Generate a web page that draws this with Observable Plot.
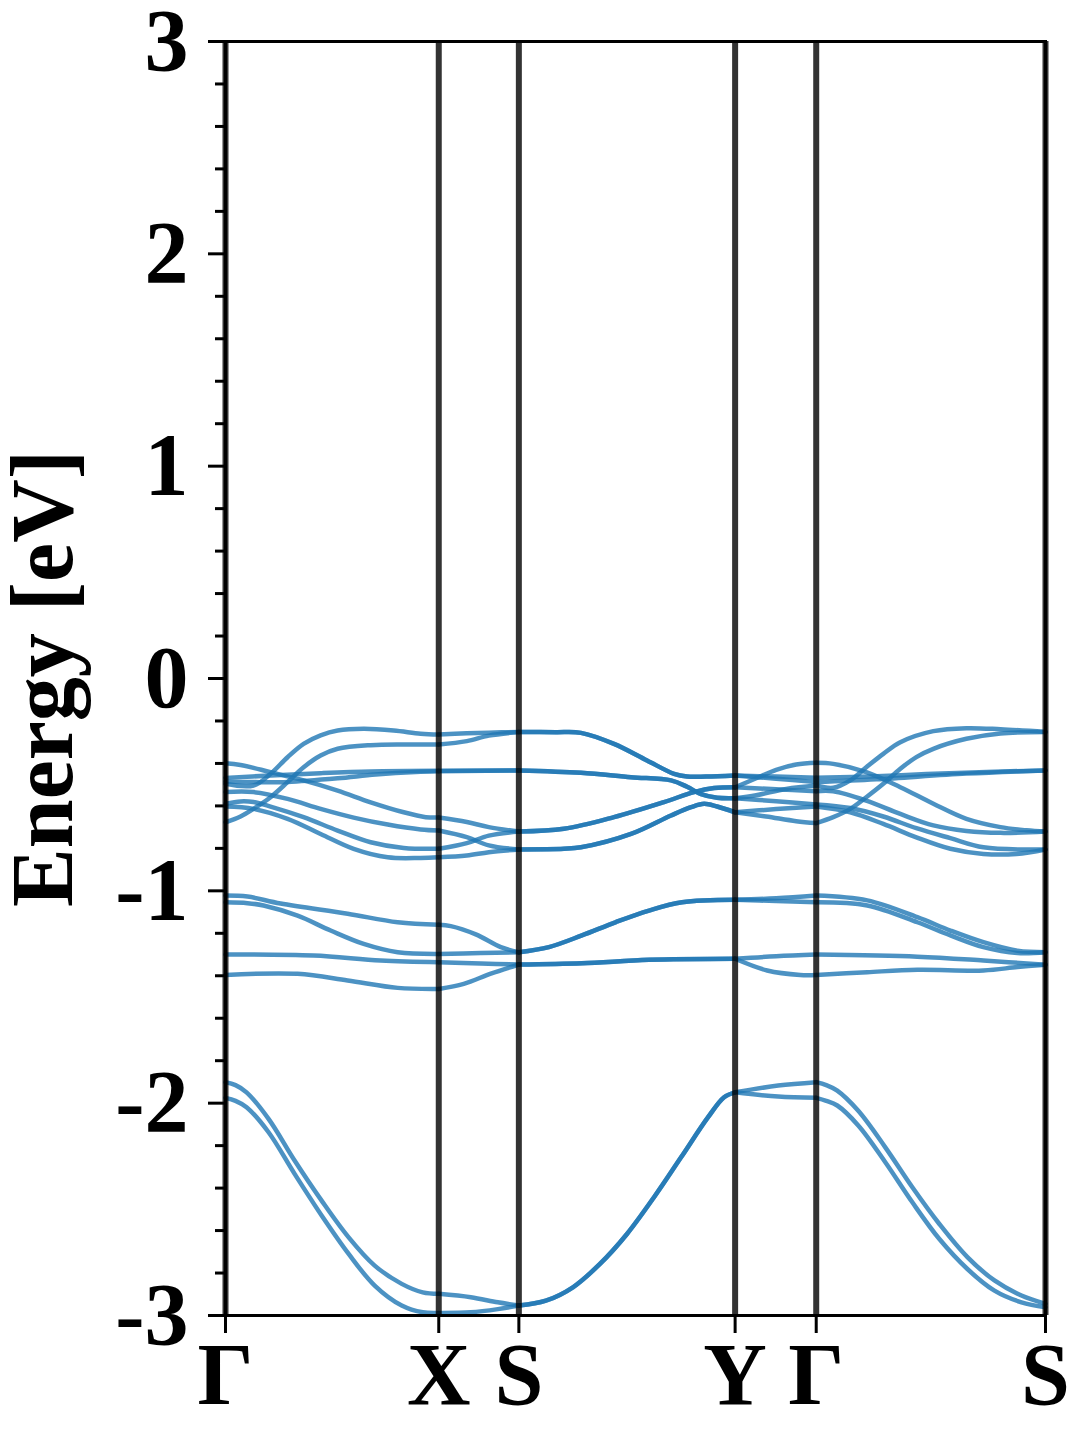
<!DOCTYPE html>
<html>
<head>
<meta charset="utf-8">
<script src="https://cdn.jsdelivr.net/npm/d3@7"></script>
<script src="https://cdn.jsdelivr.net/npm/@observablehq/plot@0.6"></script>
<style>
  html, body { margin: 0; padding: 0; background: white; }
  svg { display: block; }
</style>
</head>
<body>
<div id="chart"></div>
<script>
// High-symmetry path
const kLabels = ["Γ", "X", "S", "Y", "Γ", "S"];
const kPos = [0, 213, 293, 509, 590, 819];
const yMajorTicks = [-3, -2, -1, 0, 1, 2, 3];
const yMinorTicks = [-2.8,-2.6,-2.4,-2.2,-1.8,-1.6,-1.4,-1.2,-0.8,-0.6,-0.4,-0.2,0.2,0.4,0.6,0.8,1.2,1.4,1.6,1.8,2.2,2.4,2.6,2.8];
const yLabel = "Energy [eV]";

// Bands along Γ → X : [k, E]
const bandsGX = [
  [[0,-0.496],[28,-0.504],[45,-0.449],[62,-0.371],[78,-0.308],[95,-0.268],[112,-0.245],[138,-0.237],[168,-0.245],[195,-0.260],[213,-0.264]],
  [[0,-0.677],[15,-0.650],[28,-0.614],[45,-0.559],[62,-0.488],[78,-0.418],[95,-0.363],[112,-0.331],[145,-0.314],[180,-0.311],[213,-0.311]],
  [[0,-0.399],[15,-0.407],[45,-0.441],[78,-0.480],[112,-0.528],[145,-0.583],[178,-0.630],[200,-0.653],[213,-0.655]],
  [[0,-0.468],[45,-0.457],[95,-0.446],[145,-0.438],[213,-0.435]],
  [[0,-0.485],[30,-0.488],[62,-0.487],[112,-0.470],[150,-0.452],[190,-0.440],[213,-0.437]],
  [[0,-0.535],[28,-0.535],[62,-0.567],[95,-0.614],[128,-0.655],[162,-0.688],[195,-0.711],[213,-0.716]],
  [[0,-0.590],[15,-0.579],[28,-0.582],[45,-0.603],[78,-0.653],[112,-0.716],[145,-0.771],[178,-0.798],[213,-0.802]],
  [[0,-0.603],[28,-0.614],[62,-0.661],[95,-0.732],[128,-0.802],[162,-0.842],[195,-0.845],[213,-0.842]],
  [[0,-1.022],[22,-1.027],[55,-1.060],[122,-1.108],[172,-1.148],[213,-1.160]],
  [[0,-1.054],[22,-1.058],[38,-1.069],[72,-1.117],[105,-1.187],[138,-1.250],[172,-1.289],[213,-1.297]],
  [[0,-1.300],[88,-1.305],[155,-1.328],[213,-1.336]],
  [[0,-1.396],[72,-1.391],[122,-1.422],[172,-1.457],[213,-1.462]],
  [[0,-1.901],[10,-1.915],[21,-1.949],[43,-2.074],[69,-2.270],[96,-2.459],[123,-2.632],[149,-2.765],[176,-2.851],[197,-2.891],[213,-2.898]],
  [[0,-1.975],[10,-1.989],[21,-2.019],[43,-2.137],[69,-2.333],[96,-2.529],[123,-2.710],[149,-2.859],[176,-2.953],[197,-2.985],[213,-2.988]]
];

// Bands along X → S
const bandsXS = [
  [[213,-0.264],[241,-0.258],[263,-0.255],[293,-0.252]],
  [[213,-0.311],[241,-0.295],[263,-0.269],[293,-0.252]],
  [[213,-0.435],[293,-0.433]],
  [[213,-0.437],[293,-0.433]],
  [[213,-0.655],[241,-0.676],[263,-0.700],[293,-0.721]],
  [[213,-0.716],[241,-0.747],[263,-0.786],[293,-0.805]],
  [[213,-0.802],[241,-0.775],[263,-0.740],[293,-0.721]],
  [[213,-0.842],[241,-0.834],[263,-0.818],[293,-0.805]],
  [[213,-1.160],[225,-1.166],[250,-1.205],[275,-1.265],[293,-1.289]],
  [[213,-1.297],[255,-1.293],[293,-1.289]],
  [[213,-1.336],[255,-1.342],[293,-1.347]],
  [[213,-1.462],[238,-1.438],[265,-1.390],[293,-1.347]],
  [[213,-2.898],[245,-2.914],[272,-2.938],[293,-2.953]],
  [[213,-2.988],[245,-2.985],[272,-2.970],[293,-2.953]]
];

// Bands along S → Y (pairwise degenerate, drawn twice)
const bandsSY = [
  [[293,-0.252],[330,-0.253],[355,-0.256],[388,-0.308],[421,-0.386],[448,-0.449],[461,-0.462],[480,-0.462],[509,-0.457]],
  [[293,-0.252],[330,-0.253],[355,-0.256],[388,-0.308],[421,-0.386],[448,-0.449],[461,-0.462],[480,-0.462],[509,-0.457]],
  [[293,-0.433],[355,-0.444],[405,-0.465],[445,-0.480],[461,-0.510],[475,-0.545],[491,-0.562],[509,-0.564]],
  [[293,-0.433],[355,-0.444],[405,-0.465],[445,-0.480],[461,-0.510],[475,-0.545],[491,-0.562],[509,-0.564]],
  [[293,-0.721],[338,-0.708],[388,-0.653],[438,-0.582],[468,-0.535],[488,-0.516],[509,-0.512]],
  [[293,-0.721],[338,-0.708],[388,-0.653],[438,-0.582],[468,-0.535],[488,-0.516],[509,-0.512]],
  [[293,-0.805],[338,-0.802],[355,-0.795],[405,-0.732],[445,-0.645],[465,-0.606],[478,-0.590],[491,-0.603],[509,-0.630]],
  [[293,-0.805],[338,-0.802],[355,-0.795],[405,-0.732],[445,-0.645],[465,-0.606],[478,-0.590],[491,-0.603],[509,-0.630]],
  [[293,-1.289],[323,-1.265],[356,-1.210],[390,-1.147],[423,-1.093],[456,-1.054],[509,-1.042]],
  [[293,-1.289],[323,-1.265],[356,-1.210],[390,-1.147],[423,-1.093],[456,-1.054],[509,-1.042]],
  [[293,-1.347],[356,-1.341],[423,-1.325],[509,-1.320]],
  [[293,-1.347],[356,-1.341],[423,-1.325],[509,-1.320]],
  [[293,-2.953],[320,-2.930],[347,-2.867],[374,-2.757],[401,-2.616],[428,-2.443],[455,-2.255],[482,-2.066],[498,-1.972],[509,-1.949]],
  [[293,-2.953],[320,-2.930],[347,-2.867],[374,-2.757],[401,-2.616],[428,-2.443],[455,-2.255],[482,-2.066],[498,-1.972],[509,-1.949]]
];

// Bands along Y → Γ
const bandsYG = [
  [[509,-0.512],[530,-0.470],[550,-0.430],[570,-0.405],[590,-0.397]],
  [[509,-0.512],[550,-0.522],[590,-0.531]],
  [[509,-0.457],[550,-0.462],[590,-0.468]],
  [[509,-0.457],[550,-0.472],[590,-0.488]],
  [[509,-0.564],[530,-0.550],[560,-0.520],[590,-0.504]],
  [[509,-0.564],[550,-0.578],[590,-0.593]],
  [[509,-0.630],[550,-0.615],[590,-0.603]],
  [[509,-0.630],[540,-0.650],[570,-0.672],[590,-0.681]],
  [[509,-1.042],[550,-1.035],[590,-1.022]],
  [[509,-1.042],[550,-1.048],[590,-1.054]],
  [[509,-1.320],[550,-1.308],[590,-1.300]],
  [[509,-1.320],[541,-1.375],[574,-1.396],[590,-1.396]],
  [[509,-1.949],[552,-1.917],[590,-1.901]],
  [[509,-1.949],[552,-1.969],[590,-1.975]]
];

// Bands along Γ → S
const bandsGS = [
  [[590,-0.504],[607,-0.515],[624,-0.480],[640,-0.418],[657,-0.355],[674,-0.300],[707,-0.248],[740,-0.234],[774,-0.239],[819,-0.252]],
  [[590,-0.681],[607,-0.653],[624,-0.614],[640,-0.559],[657,-0.496],[674,-0.425],[690,-0.370],[707,-0.331],[740,-0.284],[774,-0.259],[819,-0.252]],
  [[590,-0.468],[650,-0.460],[700,-0.450],[760,-0.440],[819,-0.433]],
  [[590,-0.488],[650,-0.475],[740,-0.448],[819,-0.433]],
  [[590,-0.397],[607,-0.402],[640,-0.441],[674,-0.512],[707,-0.590],[740,-0.661],[774,-0.700],[800,-0.715],[819,-0.721]],
  [[590,-0.531],[607,-0.531],[640,-0.575],[674,-0.638],[707,-0.692],[740,-0.718],[774,-0.727],[819,-0.721]],
  [[590,-0.593],[624,-0.610],[657,-0.650],[690,-0.705],[724,-0.752],[757,-0.795],[819,-0.805]],
  [[590,-0.603],[624,-0.630],[657,-0.685],[690,-0.748],[724,-0.802],[757,-0.826],[790,-0.826],[819,-0.805]],
  [[590,-1.022],[641,-1.045],[691,-1.124],[724,-1.187],[757,-1.242],[791,-1.282],[819,-1.289]],
  [[590,-1.054],[641,-1.069],[691,-1.148],[724,-1.210],[757,-1.265],[791,-1.293],[819,-1.289]],
  [[590,-1.300],[691,-1.310],[757,-1.328],[819,-1.348]],
  [[590,-1.396],[641,-1.383],[691,-1.372],[757,-1.375],[791,-1.359],[819,-1.348]],
  [[590,-1.901],[600,-1.915],[611,-1.941],[632,-2.036],[659,-2.208],[686,-2.396],[713,-2.569],[741,-2.725],[768,-2.835],[795,-2.906],[819,-2.945]],
  [[590,-1.975],[600,-1.989],[611,-2.011],[632,-2.105],[659,-2.278],[686,-2.467],[713,-2.640],[741,-2.781],[768,-2.883],[795,-2.938],[819,-2.961]]
];

const segments = [["GX", bandsGX], ["XS", bandsXS], ["SY", bandsSY], ["YG", bandsYG], ["GS", bandsGS]];
const rows = [];
for (const [name, lines] of segments) {
  lines.forEach((pts, i) => {
    for (const [k, E] of pts) rows.push({id: name + "-" + i, k, E});
  });
}

const font = "'Liberation Serif', 'Times New Roman', Times, serif";

const chart = Plot.plot({
  width: 1080,
  height: 1440,
  marginLeft: 225,
  marginRight: 35,
  marginTop: 41,
  marginBottom: 125,
  x: {domain: [0, 819]},
  y: {domain: [-3, 3]},
  style: {fontFamily: font, fontWeight: "bold", fontSize: "88px", background: "white", color: "black", overflow: "visible"},
  marks: [
    Plot.line(rows, {x: "k", y: "E", z: "id", stroke: "#1f77b4", strokeOpacity: 0.8, strokeWidth: 4.5, curve: "catmull-rom"}),
    Plot.ruleX(kPos, {stroke: "black", strokeOpacity: 0.8, strokeWidth: 6}),
    Plot.frame({stroke: "black", strokeWidth: 3}),
    Plot.axisY(yMinorTicks, {tickSize: 10, strokeWidth: 3, text: null, label: null}),
    Plot.axisY(yMajorTicks, {tickSize: 17, tickPadding: 20, strokeWidth: 3, tickFormat: d => String(d),
      fontSize: 88, fontWeight: "bold", fontFamily: font,
      label: yLabel, labelAnchor: "center", labelOffset: 216, labelArrow: "none"}),
    Plot.axisX(kPos, {tickSize: 18, tickPadding: 8, strokeWidth: 3, tickFormat: (d, i) => kLabels[i],
      fontSize: 88, fontWeight: "bold", fontFamily: font, label: null})
  ]
});
document.getElementById("chart").appendChild(chart);
</script>
</body>
</html>
